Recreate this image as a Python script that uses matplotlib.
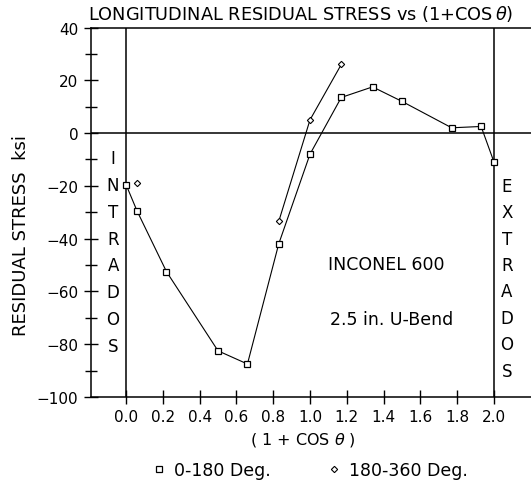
import numpy as np
import matplotlib
matplotlib.use('Agg')
import matplotlib.pyplot as plt
from matplotlib.lines import Line2D
from matplotlib.ticker import MultipleLocator, FormatStrFormatter

# 0-180 deg series (squares)
x_sq = [0.0, 0.06, 0.22, 0.50, 0.66, 0.83, 1.00, 1.17, 1.34, 1.50, 1.77, 1.93, 2.00]
y_sq = [-19.5, -29.5, -52.5, -82.5, -87.5, -42.0, -8.0, 13.5, 17.5, 12.0, 2.0, 2.5, -11.0]

# 180-360 deg series (diamonds), first point stands alone
x_dm = [0.06, 0.83, 1.00, 1.17]
y_dm = [-19.0, -33.5, 5.0, 26.0]

W, H = 531, 481
fig = plt.figure(figsize=(W / 100, H / 100), dpi=100)
ax = fig.add_axes([91 / W, 1 - 398 / H, 1 - 91 / W, (398 - 28.5) / H])

ax.set_xlim(-35 / 184, (531 - 126) / 184)
ax.set_ylim(-100, 40)

ax.axvline(0.0, color='black', lw=1.1)
ax.axvline(2.0, color='black', lw=1.1)
ax.axhline(0.0, color='black', lw=1.1)

ax.plot(x_sq, y_sq, color='black', lw=0.8, marker='s', ms=5,
        mfc='white', mec='black', mew=0.9)
ax.plot(x_dm[1:], y_dm[1:], color='black', lw=0.8)
ax.plot(x_dm, y_dm, ls='none', marker='D', ms=3.2,
        mfc='white', mec='black', mew=0.8)

ax.spines['right'].set_visible(False)
for s in ['left', 'top', 'bottom']:
    ax.spines[s].set_linewidth(1.1)

ax.xaxis.set_major_formatter(FormatStrFormatter('%.1f'))
ax.yaxis.set_major_locator(MultipleLocator(20))
ax.yaxis.set_minor_locator(MultipleLocator(10))
ax.set_xticks(np.arange(0, 2.01, 0.2))
ax.tick_params(axis='both', which='major', direction='inout', length=10,
               width=1, labelsize=11, colors='black')
ax.tick_params(axis='y', which='minor', direction='inout', length=8, width=1)
ax.tick_params(axis='x', pad=4)
ax.tick_params(axis='y', pad=4)

fig.text(88 / W, 1 - 14 / H, 'LONGITUDINAL RESIDUAL STRESS vs (1+COS$\\,\\theta$)',
         ha='left', va='center', fontsize=12.8)
fig.text(21 / W, 1 - 235 / H, 'RESIDUAL STRESS  ksi', rotation=90,
         ha='center', va='center', fontsize=13)
fig.text(303 / W, 1 - 440 / H, '( 1 + COS $\\theta$ )', ha='center',
         va='center', fontsize=11.5)

# side labels, one letter per line
for i, ch in enumerate('INTRADOS'):
    ax.text(-0.07, -9.5 - 10.15 * i, ch, ha='center', va='center', fontsize=12)
for i, ch in enumerate('EXTRADOS'):
    ax.text(2.07, -20 - 10.0 * i, ch, ha='center', va='center', fontsize=12)

ax.text(1.10, -49.5, 'INCONEL 600', ha='left', va='center', fontsize=12.5)
ax.text(1.11, -70.5, '2.5 in. U-Bend', ha='left', va='center', fontsize=12.5)

handles = [
    Line2D([], [], ls='none', marker='s', ms=5, mfc='white', mec='black',
           mew=0.9, label='0-180 Deg.'),
    Line2D([], [], ls='none', marker='D', ms=3.2, mfc='white', mec='black',
           mew=0.8, label='180-360 Deg.'),
]
fig.legend(handles=handles, loc='center', bbox_to_anchor=(310 / W, 1 - 471.5 / H),
           ncol=2, frameon=False, fontsize=12.5, handlelength=0.8,
           handletextpad=0.5, columnspacing=3.2)

fig.savefig('out.png', dpi=100)
